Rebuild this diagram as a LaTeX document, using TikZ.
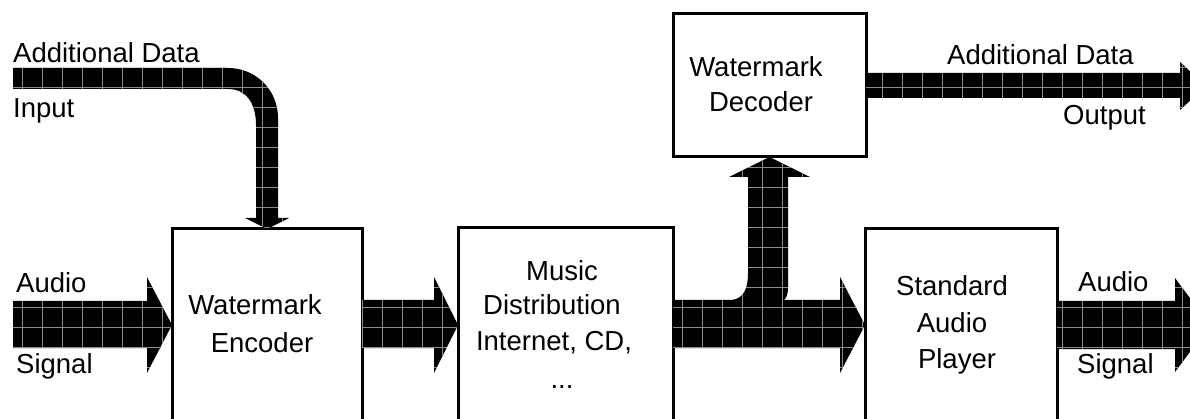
\documentclass[tikz,border=0pt]{standalone}
\usepackage{fontspec}
\setmainfont{Liberation Sans}
\tikzset{
  box/.style={draw, line width=3pt, inner sep=0pt, outer sep=0pt},
  gridline/.style={draw=black!45, line width=0.45pt},
  txt/.style={font=\fontsize{27.5}{33}\selectfont, inner sep=0pt, anchor=base},
  txtl/.style={txt, anchor=base west}
}
\newcommand\gridarrow[1]{%
  \fill[black] #1;
  \begin{scope}
    \clip #1;
    \foreach \gx in {2,22,...,1202} {\draw[gridline] (\gx,-5) -- (\gx,430);}
    \foreach \gy in {7,27,...,427} {\draw[gridline] (-5,\gy) -- (1200,\gy);}
  \end{scope}}
\begin{document}
\begin{tikzpicture}[x=1pt,y=-1pt]
\useasboundingbox (0,0) rectangle (1190,419);
\clip (0,0) rectangle (1190,419);
% boxes
\node[box, minimum width=190pt, minimum height=216pt] (enc) at (267,337) {};
\node[box, minimum width=215pt, minimum height=217pt] (mus) at (565.5,336.5) {};
\node[box, minimum width=192pt, minimum height=216pt] (ply) at (961,337) {};
\node[box, minimum width=193pt, minimum height=143pt] (dec) at (769.5,85.5) {};
% free ends
\coordinate (inData) at (13,78.5);
\coordinate (inAudio) at (13,324.5);
\coordinate (outData) at (1206,86);
\coordinate (outAudio) at (1210,325);
% arrows
\gridarrow{(inData |- 0,68) -- (228,68) .. controls (256,68) and (278,90) .. (278,118)
  -- (278,218) -- (289,218) -- (enc.north) -- (245,218) -- (256,218) -- (256,125)
  .. controls (256,103) and (246,89) .. (228,89) -- (inData |- 0,89) -- cycle}
\gridarrow{(inAudio |- 0,301) -- (147,301) -- (147,277) -- (enc.west |- 0,325)
  -- (147,373) -- (147,348) -- (inAudio |- 0,348) -- cycle}
\gridarrow{(enc.east |- 0,300) -- (434,300) -- (434,277) -- (mus.west |- 0,325)
  -- (434,373) -- (434,348) -- (enc.east |- 0,348) -- cycle}
\gridarrow{(mus.east |- 0,300) -- (731,300) .. controls (744,299) and (748,288) .. (748,273)
  -- (748,177) -- (729,177) -- (dec.south) -- (810,177) -- (788,177) -- (788,288)
  .. controls (788,295) and (786,298) .. (784,300) -- (840,300) -- (840,277)
  -- (ply.west |- 0,325) -- (840,373) -- (840,348) -- (mus.east |- 0,348) -- cycle}
\gridarrow{(dec.east |- 0,73) -- (1180,73) -- (1180,62) -- (outData) -- (1180,110)
  -- (1180,98) -- (dec.east |- 0,98) -- cycle}
\gridarrow{(ply.east |- 0,301) -- (1175,301) -- (1175,278) -- (outAudio) -- (1175,372)
  -- (1175,349) -- (ply.east |- 0,349) -- cycle}
% texts
\node[txtl] (tInData) at (13,63) {Additional Data};
\node[txtl] (tInput) at (13,118) {Input};
\node[txtl] (tAudioL) at (16,293) {Audio};
\node[txtl] (tSignalL) at (16,373) {Signal};
\node[txt] (tEnc1) at (255,315) {Watermark};
\node[txt] (tEnc2) at (262,352) {Encoder};
\node[txt] (tMus1) at (562,280) {Music};
\node[txt] (tMus2) at (552,315) {Distribution};
\node[txt] (tMus3) at (554,350) {Internet, CD,};
\node[txt] (tMus4) at (562,388) {...};
\node[txt] (tDec1) at (756,77) {Watermark};
\node[txt] (tDec2) at (761,112) {Decoder};
\node[txt] (tPly1) at (952,295) {Standard};
\node[txt] (tPly2) at (952,332) {Audio};
\node[txt] (tPly3) at (957,368) {Player};
\node[txtl] (tOutData) at (947,65) {Additional Data};
\node[txtl] (tOutput) at (1063,125) {Output};
\node[txtl] (tAudioR) at (1078,292) {Audio};
\node[txtl] (tSignalR) at (1077,373) {Signal};
\end{tikzpicture}
\end{document}
